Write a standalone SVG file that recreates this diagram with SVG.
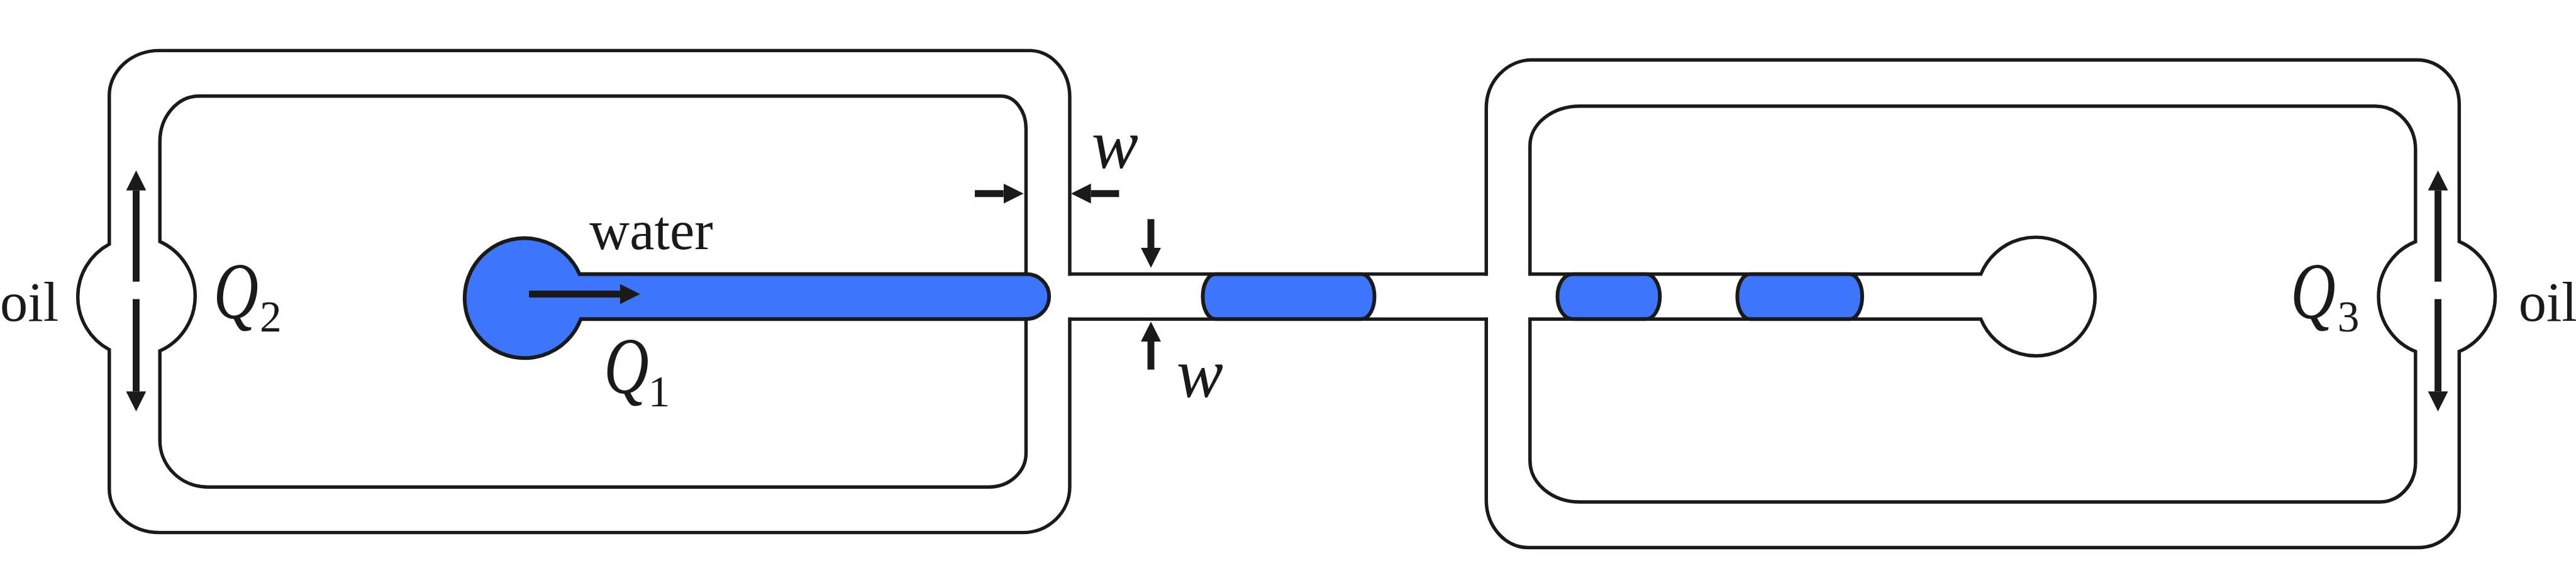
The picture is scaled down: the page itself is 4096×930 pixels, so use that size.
<svg xmlns="http://www.w3.org/2000/svg" width="4096" height="930" viewBox="0 0 4096 930">
<style>
.w{fill:#fff;stroke:#1a1a1a;stroke-width:5.5}
.d{fill:#3d76fb;stroke:#1a1a1a;stroke-width:6}
.a{stroke:#1a1a1a;stroke-width:11;fill:none;marker-end:url(#ah)}
.t{font-family:"Liberation Serif",serif;fill:#1a1a1a;font-size:89px}
.i{font-family:"Liberation Serif",serif;font-style:italic;fill:#1a1a1a}
.q{font-size:128px}
.s{font-size:70px;font-style:normal}
</style>
<defs><marker id="ah" markerUnits="userSpaceOnUse" markerWidth="32" markerHeight="32" refX="0" refY="16" orient="auto"><path d="M0 0L32 16L0 32Z" fill="#1a1a1a"/></marker></defs>
<rect width="4096" height="930" fill="#fff"/>
<g transform="scale(.99297 .99253)">
<g id="outer-wall"><path class="w" d="M1713 439V155A65 74 0 0 0 1651 81H255A80 72 0 0 0 175 155V391A96 96 0 0 0 175 560V783A80 70 0 0 0 255 853H1638A75 73 0 0 0 1713 780V511H2380V801A67 76 0 0 0 2447 877H3872A66 61 0 0 0 3938 816V563A96 96 0 0 0 3938 387V167A68 71 0 0 0 3870 96H2453A73 77 0 0 0 2380 173V439Z"/></g>
<path d="M1716 442H2377V508H1716Z" fill="#fff"/>
<g id="left-inner"><path class="w" d="M928 439H1643V206A40 52 0 0 0 1603 154H319A63 73 0 0 0 256 227V387A96 96 0 0 1 256 562V705A76 75 0 0 0 332 780H1584A59 54 0 0 0 1643 726V511H930"/></g>
<g id="right-inner"><path class="w" d="M3172 439H2450V233A80 63 0 0 1 2530 170H3804A64 69 0 0 1 3868 239V387A95 95 0 0 0 3868 563V741A57 63 0 0 1 3811 804H2530A80 66 0 0 1 2450 738V511H3172A95 95 0 1 0 3172 439Z"/></g>
<g id="water-inlet"><path class="d" d="M928 439H1644A36 36 0 0 1 1644 511H930A96 96 0 1 1 928 439Z"/></g>
<g id="droplet-1"><path class="d" d="M1946 439H2180A21 36 0 0 1 2180 511H1946A20 36 0 0 1 1946 439Z"/></g>
<g id="droplet-2"><path class="d" d="M2518 439H2636A22 36 0 0 1 2636 511H2518A24 36 0 0 1 2518 439Z"/></g>
<g id="droplet-3"><path class="d" d="M2802 439H2962A20 36 0 0 1 2962 511H2802A20 36 0 0 1 2802 439Z"/></g>
<g id="connectors">
<line class="a" x1="218" y1="451" x2="218" y2="305"/>
<line class="a" x1="218" y1="479" x2="218" y2="627"/>
<line class="a" x1="3904" y1="451" x2="3904" y2="305"/>
<line class="a" x1="3904" y1="479" x2="3904" y2="627"/>
<line class="a" x1="847" y1="471" x2="993" y2="471"/>
<line class="a" x1="1561" y1="310" x2="1607" y2="310"/>
<line class="a" x1="1792" y1="310" x2="1747" y2="310"/>
<line class="a" x1="1843" y1="351" x2="1843" y2="397"/>
<line class="a" x1="1843" y1="592" x2="1843" y2="547"/>
</g>
<g id="labels">
<text class="t" x="0" y="514">oil</text>
<text class="t" x="4033" y="514">oil</text>
<text class="t" x="944" y="399">water</text>
<text class="i" y="510"><tspan class="q" x="342" textLength="72" lengthAdjust="spacingAndGlyphs">Q</tspan><tspan class="s" x="416" y="531">2</tspan></text>
<text class="i" y="630"><tspan class="q" x="967" textLength="72" lengthAdjust="spacingAndGlyphs">Q</tspan><tspan class="s" x="1038" y="651">1</tspan></text>
<text class="i" y="510"><tspan class="q" x="3668" textLength="72" lengthAdjust="spacingAndGlyphs">Q</tspan><tspan class="s" x="3743" y="531">3</tspan></text>
<text class="i" x="1748" y="269" font-size="112">w</text>
<text class="i" x="1884" y="636" font-size="112">w</text>
</g>
</g>
</svg>
